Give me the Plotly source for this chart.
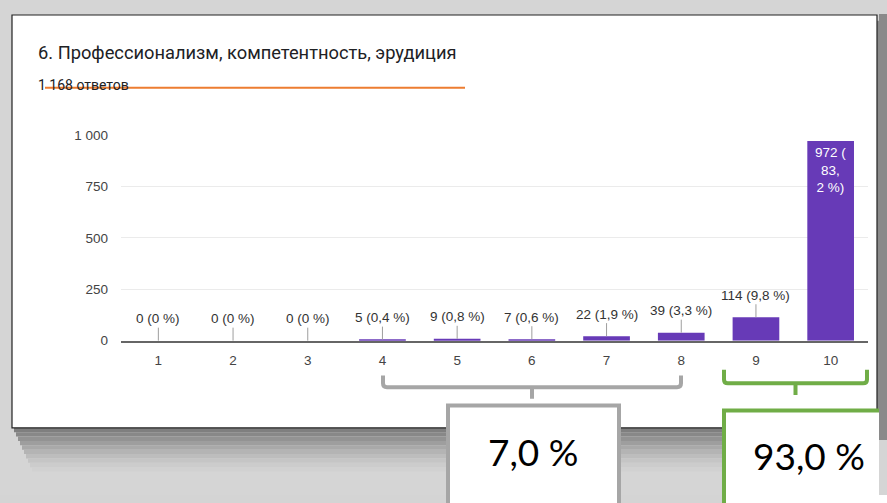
import plotly.graph_objects as go

# ---- data ----
categories = ["1", "2", "3", "4", "5", "6", "7", "8", "9", "10"]
counts = [0, 0, 0, 5, 9, 7, 22, 39, 114, 972]
percents = ["0", "0", "0", "0,4", "0,8", "0,6", "1,9", "3,3", "9,8", "83,2"]
y_tickvals = [0, 250, 500, 750, 1000]
y_ticktext = ["0", "250", "500", "750", "1 000"]
title_text = "6. Профессионализм, компетентность, эрудиция"
subtitle_text = "1 168 ответов"
group_low_label = "7,0 %"
group_high_label = "93,0 %"

# the page body keeps its default 8px margin, so the figure is 16px smaller than the window
OX, OY = 8, 8
FW, FH = 887 - 2 * OX, 503 - 2 * OY
BG = "#d5d5d5"


def px(x):
    return (x - OX) / FW


def py(y):
    return 1 - (y - OY) / FH


xpos = list(range(len(categories)))

fig = go.Figure()
fig.add_trace(go.Bar(
    x=xpos, y=counts, marker=dict(color="#673ab7", line=dict(width=0)),
    hoverinfo="skip",
))

shapes = []
# shadow below card
shadow_cols = ["#7f7f7f", "#888888", "#939393", "#9e9e9e", "#a9a9a9", "#b4b4b4",
               "#bdbdbd", "#c5c5c5", "#cccccc", "#d1d1d1"]
for i, c in enumerate(shadow_cols):
    shapes.append(dict(type="rect", xref="paper", yref="paper", layer="below",
                       x0=px(14 + i * 2), x1=px(890), y0=py(434 + (i + 1) * 4.5), y1=py(434 + i * 4.5),
                       fillcolor=c, line=dict(width=0)))
# right shadow
shapes.append(dict(type="rect", xref="paper", yref="paper", layer="below",
                   x0=px(877), x1=px(890), y0=py(440), y1=py(14),
                   fillcolor="#8a8a8a", line=dict(width=0)))
# card
shapes.append(dict(type="rect", xref="paper", yref="paper", layer="below",
                   x0=px(12), x1=px(877), y0=py(434), y1=py(8),
                   fillcolor="white", line=dict(color="#222222", width=1.2)))
# orange line
shapes.append(dict(type="line", xref="paper", yref="paper", layer="above",
                   x0=px(45), x1=px(465), y0=py(83), y1=py(83),
                   line=dict(color="#ed7d31", width=2)))


def brace(x0, x1, ytop, ymid, ybot, color):
    xm = (x0 + x1) / 2
    r = 4
    path = (f"M {px(x0)},{py(ytop)} L {px(x0)},{py(ymid - r)} "
            f"Q {px(x0)},{py(ymid)} {px(x0 + r)},{py(ymid)} "
            f"L {px(x1 - r)},{py(ymid)} Q {px(x1)},{py(ymid)} {px(x1)},{py(ymid - r)} "
            f"L {px(x1)},{py(ytop)} M {px(xm)},{py(ymid)} L {px(xm)},{py(ybot)}")
    return dict(type="path", xref="paper", yref="paper", layer="above", path=path,
                line=dict(color=color, width=4))


shapes.append(brace(383, 681, 380, 392, 404, "#a6a6a6"))
shapes.append(brace(724, 867, 374, 388, 400, "#70ad47"))
# boxes
shapes.append(dict(type="rect", xref="paper", yref="paper", layer="above",
                   x0=px(448), x1=px(619), y0=py(515), y1=py(411),
                   fillcolor="white", line=dict(color="#a6a6a6", width=4)))
shapes.append(dict(type="rect", xref="paper", yref="paper", layer="above",
                   x0=px(724), x1=px(900), y0=py(515), y1=py(416),
                   fillcolor="white", line=dict(color="#70ad47", width=4)))

annotations = [
    dict(text=title_text, xref="paper", yref="paper", x=px(36), y=py(47),
         xanchor="left", yanchor="middle", showarrow=False,
         font=dict(family="Roboto", size=18.3, color="#202124")),
    dict(text=subtitle_text, xref="paper", yref="paper", x=px(36), y=py(80),
         xanchor="left", yanchor="middle", showarrow=False,
         font=dict(family="Roboto", size=14, color="#202124")),
    dict(text=group_low_label, xref="paper", yref="paper", x=px(533), y=py(458),
         xanchor="center", yanchor="middle", showarrow=False,
         font=dict(family="Lato", size=37, color="#000000")),
    dict(text=group_high_label, xref="paper", yref="paper", x=px(809), y=py(462),
         xanchor="center", yanchor="middle", showarrow=False,
         font=dict(family="Lato", size=37, color="#000000")),
]

for i, (v, p) in enumerate(zip(counts, percents)):
    if v > 500:
        parts = p.split(",")
        annotations.append(dict(x=xpos[i], y=v, xref="x", yref="y",
                                text=f"{v} (<br>{parts[0]},<br>{parts[1]} %)",
                                showarrow=False, yanchor="top", yshift=-2,
                                font=dict(family="Liberation Sans", size=13.5, color="white")))
    else:
        annotations.append(dict(x=xpos[i], y=v, xref="x", yref="y", text=f"{v} ({p} %)",
                                showarrow=True, arrowhead=0, arrowwidth=1, arrowcolor="#9e9e9e",
                                ax=0, ay=-22,
                                font=dict(family="Liberation Sans", size=13.5, color="#333333")))

fig.update_layout(
    width=FW, height=FH,
    margin=dict(l=0, r=0, t=0, b=0),
    paper_bgcolor=BG,
    plot_bgcolor="rgba(0,0,0,0)",
    showlegend=False,
    bargap=0.375,
    shapes=shapes,
    annotations=annotations,
    xaxis=dict(domain=[px(121), px(868)], showgrid=False, showline=True,
               linecolor="#666666", linewidth=1.5, ticks="", range=[-0.5, 9.5],
               tickvals=xpos, ticktext=categories, zeroline=False, ticklabelstandoff=6,
               tickfont=dict(family="Liberation Sans", size=13.5, color="#444444"),
               fixedrange=True),
    yaxis=dict(domain=[py(344), py(132)], range=[0, 1000], tickvals=y_tickvals,
               ticktext=y_ticktext, showgrid=True, gridcolor="#ebebeb", gridwidth=1,
               zeroline=False, showline=False, ticklabelstandoff=12,
               tickfont=dict(family="Liberation Sans", size=13.5, color="#444444"),
               fixedrange=True),
)

page_bg = ("linear-gradient(to right, #d4d4d4 0px, #d4d4d4 446px, #a6a6a6 446px, #a6a6a6 450px, "
           "#ffffff 450px, #ffffff 617px, #a6a6a6 617px, #a6a6a6 621px, #d4d4d4 621px, #d4d4d4 722px, "
           "#70ad47 722px, #70ad47 726px, #ffffff 726px) left bottom / 100% 8px no-repeat, "
           "linear-gradient(#8a8a8a, #8a8a8a) right 0px top 14px / 9px 426px no-repeat, " + BG)
fig.write_html("out.html", config={"displayModeBar": False},
               post_script="document.documentElement.style.background='" + page_bg + "';")
